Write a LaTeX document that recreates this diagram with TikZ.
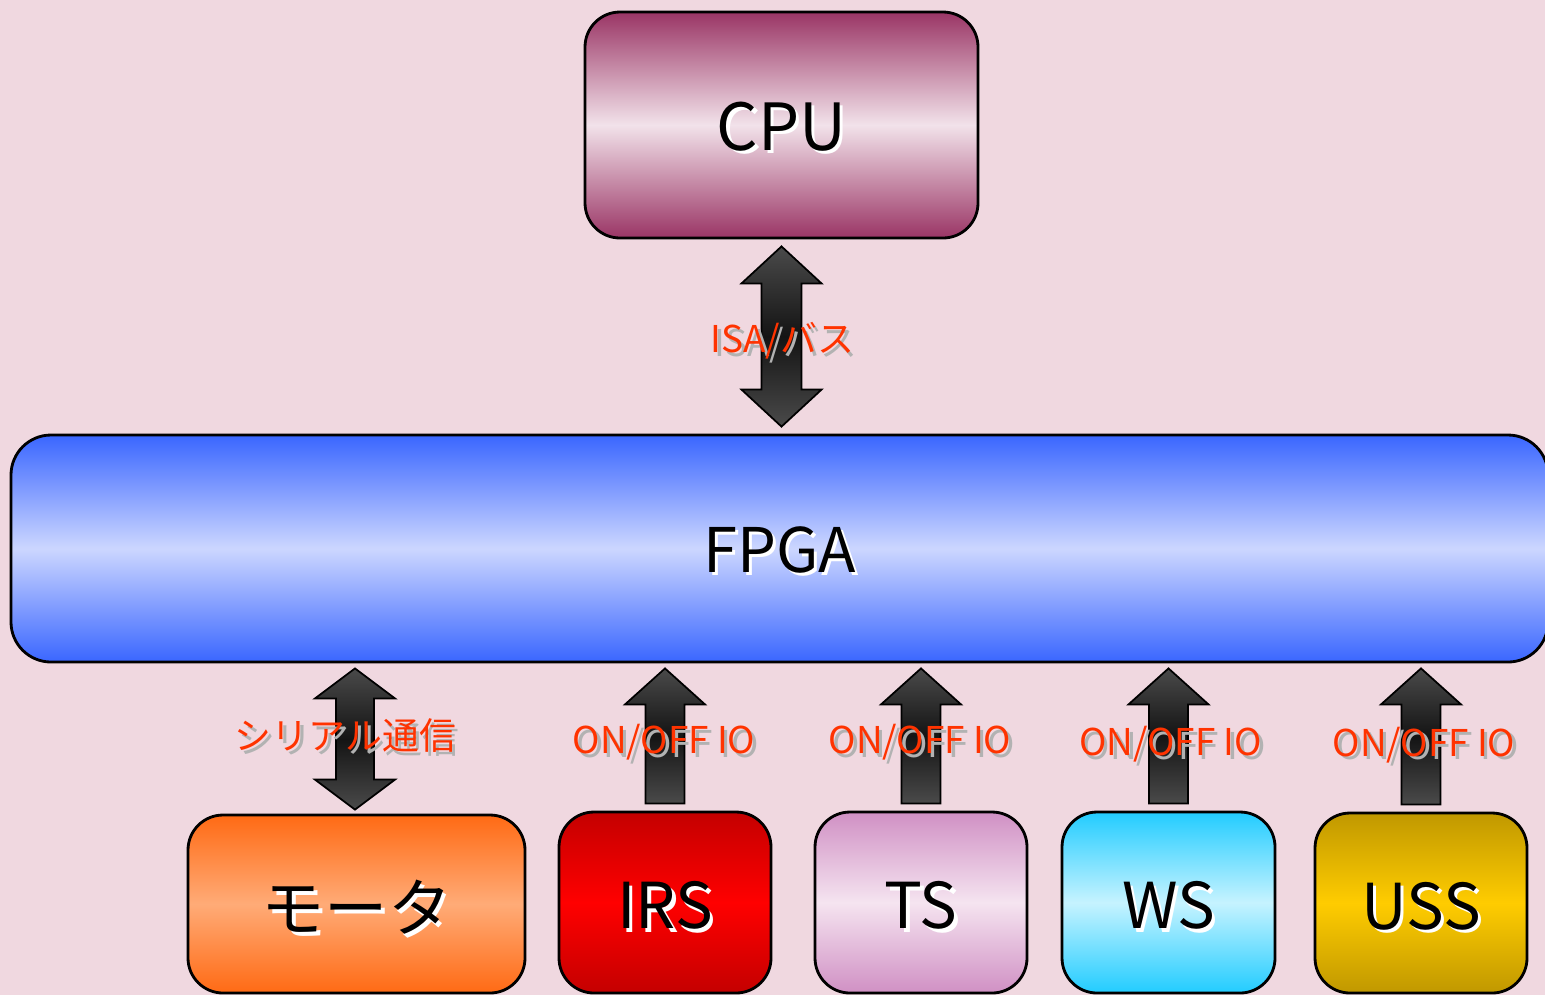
\documentclass[tikz,border=0pt]{standalone}
\usepackage{fontspec}
\setmainfont{Noto Sans CJK JP}
\usetikzlibrary{calc}

\definecolor{bgpink}{HTML}{F0D8E0}
\definecolor{labelred}{HTML}{FF3300}
\definecolor{arrowgray}{HTML}{4A4A4A}
\definecolor{arrowdark}{HTML}{141414}
\definecolor{cpudark}{HTML}{9A3565}
\definecolor{cpulight}{HTML}{F2E2EA}
\definecolor{fpgadark}{HTML}{3A66FF}
\definecolor{fpgalight}{HTML}{CCD6FF}
\definecolor{motordark}{HTML}{FF6A14}
\definecolor{motorlight}{HTML}{FFAB77}
\definecolor{irsdark}{HTML}{C40000}
\definecolor{irslight}{HTML}{FF0000}
\definecolor{tsdark}{HTML}{D090C4}
\definecolor{tslight}{HTML}{F5E4F0}
\definecolor{wsdark}{HTML}{22CCFF}
\definecolor{wslight}{HTML}{C6F3FF}
\definecolor{ussdark}{HTML}{C09800}
\definecolor{usslight}{HTML}{FFCC00}

% text with a soft offset copy behind it, optionally dropped a little
\newcommand{\withshadow}[3][0pt]{\raisebox{-#1}[\height][\depth]{%
  \makebox[0pt][l]{\kern1pt\raisebox{-1pt}{\textcolor{#2}{#3}}}#3}}

\tikzset{
  block/.style={draw=black, line width=0.8pt, rounded corners=0.35cm, inner sep=0pt,
    text=black, font=\fontsize{18}{20}\selectfont},
  blockshade/.style={top color=#1dark, bottom color=#1dark, middle color=#1light},
  arrowfill/.style={draw=black, line width=0.5pt, top color=arrowgray,
    bottom color=arrowgray, middle color=arrowdark},
  buslabel/.style={text=labelred, inner sep=0pt, font=\fontsize{10.5}{12}\selectfont},
}

\begin{document}
\begin{tikzpicture}
    \useasboundingbox[fill=bgpink] (0,0) rectangle (15.45,-9.95);

    % CPU and FPGA
    \node[block, blockshade=cpu, minimum width=3.93cm, minimum height=2.26cm,
      font=\fontsize{18.5}{22}\selectfont] (cpu) at (7.815,-1.25) {\withshadow[0.9pt]{white}{CPU}};
    \node[block, blockshade=fpga, rounded corners=0.4cm, minimum width=15.37cm,
      minimum height=2.27cm, font=\fontsize{17.5}{22}\selectfont] (fpga) at (7.795,-5.485) {\withshadow[0.9pt]{white}{FPGA}};

    % motor and sensors
    \node[block, blockshade=motor, minimum width=3.37cm, minimum height=1.78cm] (motor) at (3.565,-9.04) {\withshadow[1.4pt]{white}{モータ}};
    \node[block, blockshade=irs, minimum width=2.12cm, minimum height=1.81cm] (irs) at (6.65,-9.025) {\withshadow[1.4pt]{white}{IRS}};
    \node[block, blockshade=ts, minimum width=2.12cm, minimum height=1.81cm] (ts) at (9.21,-9.025) {\withshadow[1.4pt]{white}{TS}};
    \node[block, blockshade=ws, minimum width=2.13cm, minimum height=1.81cm] (ws) at (11.685,-9.025) {\withshadow[1.4pt]{white}{WS}};
    \node[block, blockshade=uss, minimum width=2.12cm, minimum height=1.80cm] (uss) at (14.21,-9.03) {\withshadow[1.4pt]{white}{USS}};

    % ISA bus, both ways
    \path[arrowfill] let \p1=($(fpga.north -| cpu.south)+(0,0.07)$), \p2=($(cpu.south)+(0,-0.07)$) in
      (\x1,\y1) -- (\x1-0.4cm,\y1+0.37cm) -- (\x1-0.2cm,\y1+0.37cm) -- (\x1-0.2cm,\y2-0.37cm)
      -- (\x1-0.4cm,\y2-0.37cm) -- (\x1,\y2) -- (\x1+0.4cm,\y2-0.37cm) -- (\x1+0.2cm,\y2-0.37cm)
      -- (\x1+0.2cm,\y1+0.37cm) -- (\x1+0.4cm,\y1+0.37cm) -- cycle;

    % serial link to the motor
    \path[arrowfill] let \p1=($(motor.north)+(-0.015,0.04)$), \p2=($(fpga.south)+(0,-0.05)$) in
      (\x1,\y1) -- (\x1-0.4cm,\y1+0.3cm) -- (\x1-0.19cm,\y1+0.3cm) -- (\x1-0.19cm,\y2-0.3cm)
      -- (\x1-0.4cm,\y2-0.3cm) -- (\x1,\y2) -- (\x1+0.4cm,\y2-0.3cm) -- (\x1+0.19cm,\y2-0.3cm)
      -- (\x1+0.19cm,\y1+0.3cm) -- (\x1+0.4cm,\y1+0.3cm) -- cycle;

    % sensor inputs
    \foreach \s in {irs,ts,ws,uss}
      \path[arrowfill] let \p1=($(\s.north)+(0,0.07)$), \p2=($(fpga.south)+(0,-0.05)$) in
        (\x1-0.195cm,\y1) -- (\x1-0.195cm,\y2-0.36cm) -- (\x1-0.4cm,\y2-0.36cm) -- (\x1,\y2)
        -- (\x1+0.4cm,\y2-0.36cm) -- (\x1+0.195cm,\y2-0.36cm) -- (\x1+0.195cm,\y1) -- cycle;

    % labels
    \node[buslabel] (isalbl) at ($(cpu.south)!0.5!(fpga.north -| cpu.south)+(0.01,-0.06)$) {\withshadow{gray!60}{ISA/バス}};
    \node[buslabel] (seriallbl) at ($(motor.north)!0.5!(motor.north |- fpga.south)+(-0.11,0.01)$) {\withshadow{gray!60}{シリアル通信}};
    \node[buslabel] (irslbl) at ($(irs.north)!0.5!(irs.north |- fpga.south)+(-0.01,-0.07)$) {\withshadow{gray!60}{ON/OFF IO}};
    \node[buslabel] (tslbl) at ($(ts.north)!0.5!(ts.north |- fpga.south)+(-0.01,-0.07)$) {\withshadow{gray!60}{ON/OFF IO}};
    \node[buslabel] (wslbl) at ($(ws.north)!0.5!(ws.north |- fpga.south)+(0.02,-0.09)$) {\withshadow{gray!60}{ON/OFF IO}};
    \node[buslabel] (usslbl) at ($(uss.north)!0.5!(uss.north |- fpga.south)+(0.03,-0.09)$) {\withshadow{gray!60}{ON/OFF IO}};
\end{tikzpicture}
\end{document}
